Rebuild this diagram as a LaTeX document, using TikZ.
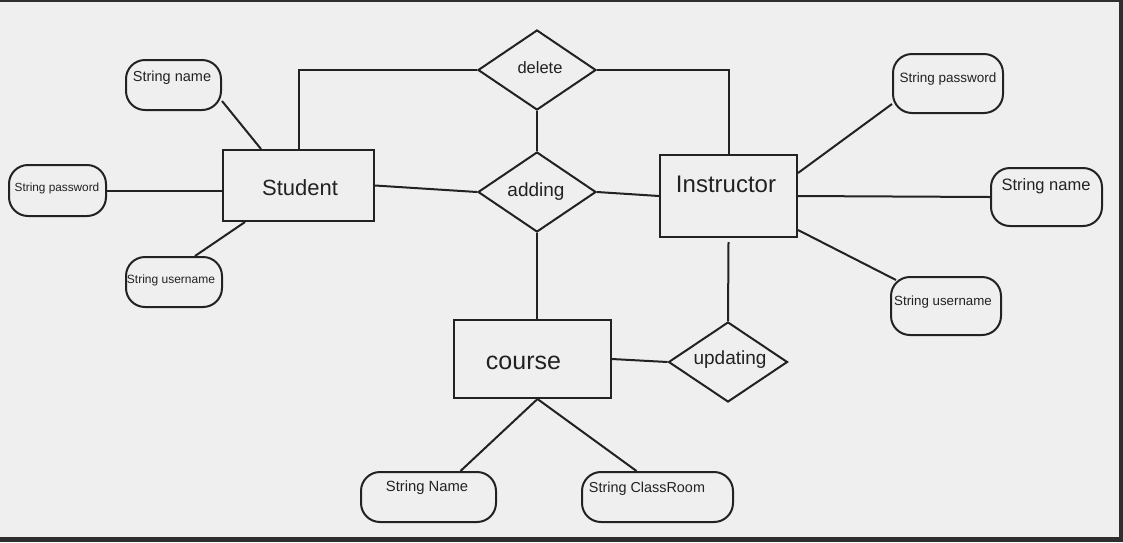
\documentclass[tikz,border=0pt]{standalone}
\usepackage{fontspec}
\setmainfont{Liberation Sans}
\usetikzlibrary{shapes.geometric,calc}
\definecolor{bg}{HTML}{EFEFEF}
\definecolor{ink}{HTML}{222222}
\definecolor{frame}{HTML}{2E2E2E}
\begin{document}
\begin{tikzpicture}[x=1pt,y=-1pt,
  entity/.style={draw=ink,line width=2pt,rectangle,inner sep=0pt},
  attr/.style={draw=ink,line width=2pt,rectangle,rounded corners=19pt,inner sep=0pt},
  rel/.style={draw=ink,line width=2pt,diamond,inner sep=0pt},
  conn/.style={draw=ink,line width=2pt},
  txt/.style={text=ink,inner sep=0pt,font=\fontsize{#1}{#1}\selectfont}]
\useasboundingbox (0,0) rectangle (1123,542);
\fill[bg] (0,0) rectangle (1123,542);
\fill[frame] (0,0) rectangle (1123,2);
\fill[frame] (1119,0) rectangle (1123,542);
\fill[frame] (0,537) rectangle (1123,542);

% entities
\node[entity,minimum width=151pt,minimum height=71pt] (student) at (298.5,185.5) {};
\node[txt=22] at (300,188) {Student};
\node[entity,minimum width=137pt,minimum height=82pt] (instr) at (728.5,196) {};
\node[txt=24] at (726,184) {Instructor};
\node[entity,minimum width=157pt,minimum height=78pt] (course) at (532.5,359) {};
\node[txt=25] at (523.5,363) {course};

% relationships
\node[rel,minimum width=118pt,minimum height=80pt] (delete) at (537,70) {};
\node[txt=16.5] at (540,68) {delete};
\node[rel,minimum width=118pt,minimum height=80pt] (adding) at (537,192) {};
\node[txt=19] at (536,192) {adding};
\node[rel,minimum width=119pt,minimum height=80pt] (updating) at (728,362) {};
\node[txt=19] at (730,360) {updating};

% student attributes
\node[attr,minimum width=95pt,minimum height=50pt] (sname) at (173.5,85) {};
\node[txt=14.5] at (172,78) {String name};
\node[attr,minimum width=97pt,minimum height=51pt] (spass) at (57.5,190.5) {};
\node[txt=11.8] at (57,188) {String password};
\node[attr,minimum width=96pt,minimum height=50pt] (suser) at (174,282) {};
\node[txt=12] at (171,280) {String username};

% instructor attributes
\node[attr,minimum width=110pt,minimum height=59pt] (ipass) at (948,83.5) {};
\node[txt=13.5] at (948,79) {String password};
\node[attr,minimum width=111pt,minimum height=58pt] (iname) at (1046.5,197) {};
\node[txt=16.5] at (1046,186) {String name};
\node[attr,minimum width=110pt,minimum height=58pt] (iuser) at (946,306) {};
\node[txt=13.3] at (943,302) {String username};

% course attributes
\node[attr,minimum width=135pt,minimum height=50pt] (cname) at (428.5,497) {};
\node[txt=14.8] at (427,488) {String Name};
\node[attr,minimum width=151pt,minimum height=50pt] (cclass) at (657.5,497) {};
\node[txt=14.4] at (647,489) {String ClassRoom};

% connectors
\draw[conn] ([yshift=10pt]sname.south east) -- ([xshift=39pt]student.north west);
\draw[conn] (spass.east) -- (spass.east -| student.west);
\draw[conn] ([xshift=21pt]suser.north) -- ([xshift=23pt]student.south west);
\draw[conn] (student.north) |- (delete.west);
\draw[conn] (delete.east) -| (instr.north);
\draw[conn] (delete.south) -- (adding.north);
\draw[conn] (student.east) -- (adding.west);
\draw[conn] (adding.east) -- (instr.west);
\draw[conn] ([yshift=-4pt]instr.south) -- (updating.north);
\draw[conn] (adding.south) -- (adding.south |- course.north);
\draw[conn] (course.east) -- (updating.west);
\draw[conn] ([xshift=5pt]course.south) -- ([xshift=32pt]cname.north);
\draw[conn] ([xshift=5pt]course.south) -- ([xshift=-21pt]cclass.north);
\draw[conn] ([yshift=-19pt]instr.north east) -- ([yshift=10pt]ipass.south west);
\draw[conn] (instr.east) -- (iname.west);
\draw[conn] ([yshift=8pt]instr.south east) -- ([xshift=6pt,yshift=-4pt]iuser.north west);
\end{tikzpicture}
\end{document}
